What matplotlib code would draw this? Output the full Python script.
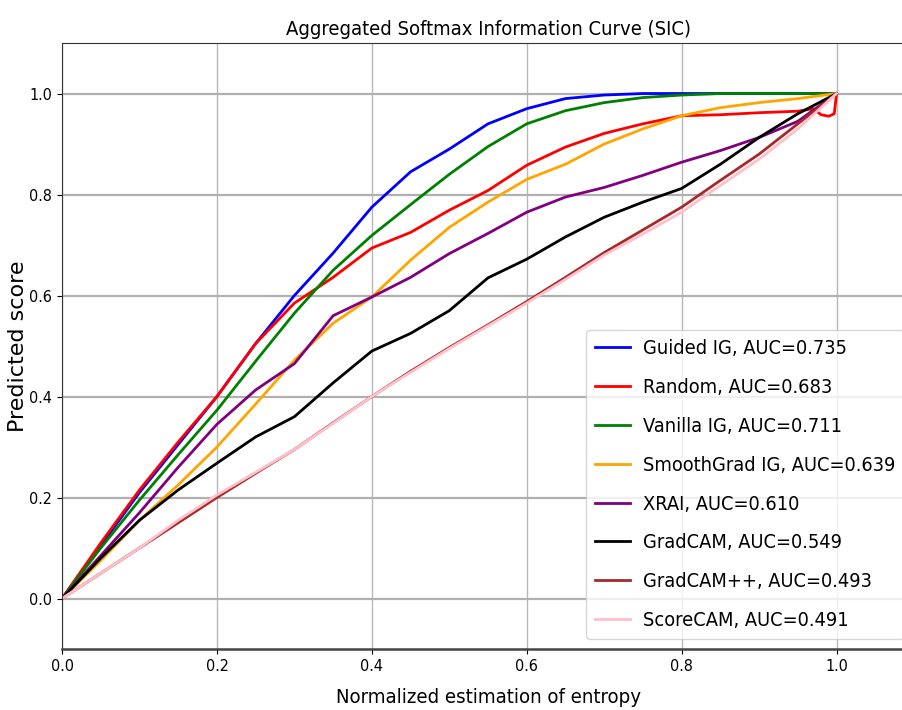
import matplotlib
matplotlib.use('Agg')
import matplotlib.pyplot as plt
from matplotlib import font_manager

# values
x_main = [0.0, 0.05, 0.1, 0.15, 0.2, 0.25, 0.3, 0.35, 0.4, 0.45, 0.5,
          0.55, 0.6, 0.65, 0.7, 0.75, 0.8, 0.85, 0.9, 0.95, 1.0]

guided_ig = [0.0, 0.105, 0.21, 0.305, 0.40, 0.505, 0.60, 0.684, 0.775, 0.845, 0.89,
             0.94, 0.97, 0.99, 0.997, 1.0, 1.0, 1.0, 1.0, 1.0, 1.0]
vanilla_ig = [0.0, 0.10, 0.195, 0.285, 0.373, 0.47, 0.565, 0.65, 0.719, 0.78, 0.84,
              0.895, 0.94, 0.966, 0.982, 0.992, 0.997, 1.0, 1.0, 1.0, 1.0]
smoothgrad_ig = [0.0, 0.075, 0.155, 0.225, 0.30, 0.385, 0.472, 0.545, 0.597, 0.67, 0.735,
                 0.785, 0.83, 0.86, 0.90, 0.93, 0.956, 0.972, 0.982, 0.99, 1.0]
xrai = [0.0, 0.085, 0.17, 0.26, 0.345, 0.413, 0.465, 0.56, 0.597, 0.636, 0.683,
        0.723, 0.765, 0.795, 0.814, 0.838, 0.864, 0.887, 0.913, 0.945, 1.0]
gradcam = [0.0, 0.08, 0.155, 0.215, 0.268, 0.32, 0.36, 0.427, 0.49, 0.525, 0.57,
           0.635, 0.672, 0.716, 0.755, 0.785, 0.812, 0.86, 0.913, 0.96, 1.0]
gradcampp = [0.0, 0.05, 0.10, 0.15, 0.20, 0.248, 0.295, 0.348, 0.40, 0.45, 0.497,
             0.542, 0.588, 0.636, 0.685, 0.73, 0.775, 0.828, 0.88, 0.94, 1.0]
scorecam = [0.0, 0.05, 0.10, 0.155, 0.205, 0.25, 0.295, 0.347, 0.40, 0.448, 0.495,
            0.54, 0.585, 0.632, 0.68, 0.722, 0.765, 0.818, 0.87, 0.93, 1.0]

# random has a dip just before the end
x_random = [0.0, 0.05, 0.1, 0.15, 0.2, 0.25, 0.27, 0.3, 0.35, 0.4, 0.45, 0.5,
            0.55, 0.6, 0.65, 0.7, 0.75, 0.8, 0.85, 0.9, 0.95, 0.97, 0.98, 0.99, 0.997, 1.0]
random_ = [0.0, 0.11, 0.215, 0.31, 0.40, 0.505, 0.537, 0.585, 0.636, 0.694, 0.725, 0.769,
           0.808, 0.858, 0.894, 0.921, 0.94, 0.956, 0.958, 0.962, 0.965, 0.97, 0.958, 0.955, 0.96, 1.0]

series = [
    ("Guided IG, AUC=0.735", x_main, guided_ig, "blue"),
    ("Random, AUC=0.683", x_random, random_, "red"),
    ("Vanilla IG, AUC=0.711", x_main, vanilla_ig, "green"),
    ("SmoothGrad IG, AUC=0.639", x_main, smoothgrad_ig, "orange"),
    ("XRAI, AUC=0.610", x_main, xrai, "purple"),
    ("GradCAM, AUC=0.549", x_main, gradcam, "black"),
    ("GradCAM++, AUC=0.493", x_main, gradcampp, "brown"),
    ("ScoreCAM, AUC=0.491", x_main, scorecam, "pink"),
]

# the reference text is narrow; use a condensed DejaVu if there is one
has_condensed = any(f.name == 'DejaVu Sans' and 'condensed' in str(f.stretch)
                    for f in font_manager.fontManager.ttflist)
if has_condensed:
    nfont = dict(family='DejaVu Sans', stretch='condensed')
else:
    nfont = dict(family='Liberation Sans')

fig = plt.figure(figsize=(9.03, 7.10), dpi=100)
ax = fig.add_axes([0.0687, 0.0859, 0.9435, 0.8535])

for label, xs, ys, color in series:
    ax.plot(xs, ys, color=color, linewidth=2, label=label)

ax.set_xlim(0, 1.1)
ax.set_ylim(-0.1, 1.1)
ax.set_xticks([0.0, 0.2, 0.4, 0.6, 0.8, 1.0])
ax.set_yticks([0.0, 0.2, 0.4, 0.6, 0.8, 1.0])
for lab in ax.get_xticklabels() + ax.get_yticklabels():
    lab.set_fontproperties(font_manager.FontProperties(size=11.5, **nfont))

ax.xaxis.grid(True, color='#b8b8b8', linewidth=1.0)
ax.yaxis.grid(True, color='#b0b0b0', linewidth=1.6)
ax.set_axisbelow(True)

ax.spines['right'].set_visible(False)
ax.spines['bottom'].set_linewidth(1.8)
ax.spines['bottom'].set_color('#444444')
ax.spines['top'].set_color('#333333')
ax.spines['left'].set_color('#333333')

ax.set_title('Aggregated Softmax Information Curve (SIC)', fontsize=14.5, **nfont)
ax.set_xlabel('Normalized estimation of entropy', fontsize=14.6, labelpad=10, **nfont)
ax.set_ylabel('Predicted score', family='DejaVu Sans', fontsize=16)
ax.yaxis.set_label_coords(-0.040, 0.5)

ax.legend(loc='lower right', prop=font_manager.FontProperties(size=14.3, **nfont),
          handlelength=1.75, handletextpad=0.65, labelspacing=1.0, borderpad=0.45)

plt.savefig('out.png', dpi=100)
plt.close()
